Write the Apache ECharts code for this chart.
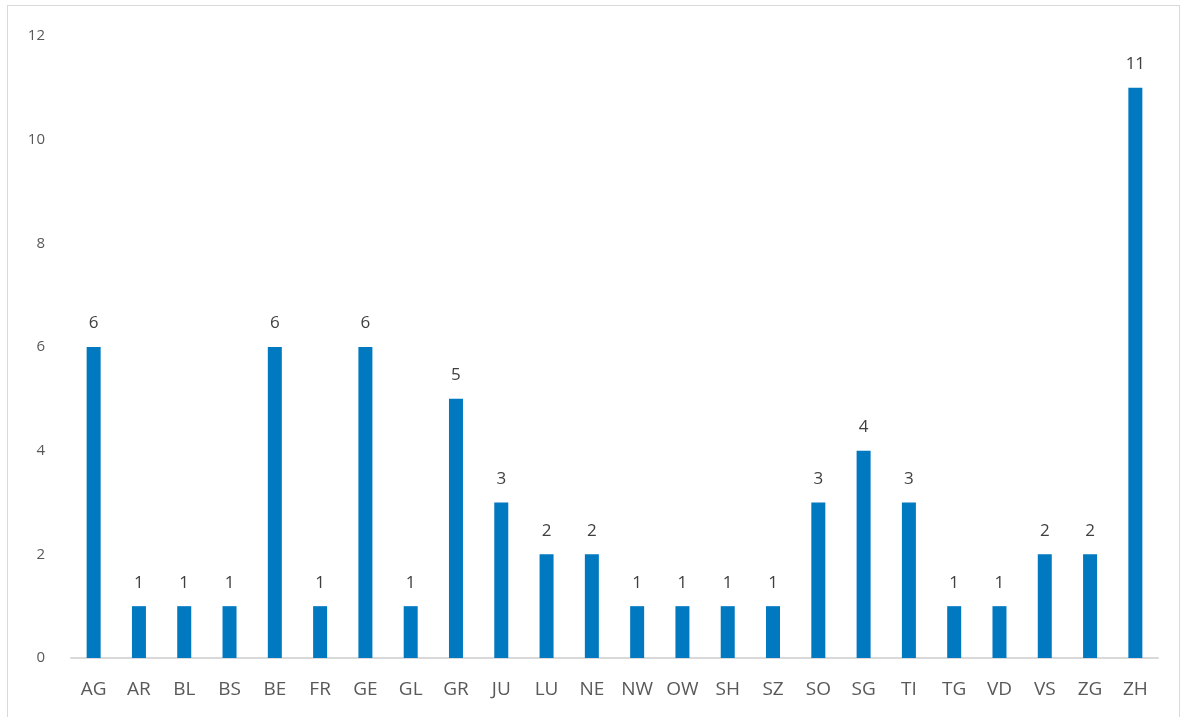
<!DOCTYPE html>
<html><head><meta charset="utf-8">
<script src="https://cdn.jsdelivr.net/npm/echarts@6/dist/echarts.min.js"></script>
<style>
html,body{margin:0;padding:0;background:#fff;}
#frame{position:absolute;left:7px;top:5px;width:1173px;height:730px;border:1px solid #d9d9d9;box-sizing:border-box;}
#c{position:absolute;left:0;top:0;width:1184px;height:717px;}
</style></head>
<body><div id="frame"></div><div id="c"></div>
<script>
const categories = ['AG','AR','BL','BS','BE','FR','GE','GL','GR','JU','LU','NE','NW','OW','SH','SZ','SO','SG','TI','TG','VD','VS','ZG','ZH'];
const values = [6,1,1,1,6,1,6,1,5,3,2,2,1,1,1,1,3,4,3,1,1,2,2,11];
const chart = echarts.init(document.getElementById('c'));
chart.setOption({
  animation:false,
  grid:{left:71,right:26,top:36,bottom:59},
  xAxis:{type:'category',data:categories,
    axisLine:{lineStyle:{color:'#d9d9d9',width:2}},axisTick:{show:false},
    axisLabel:{color:'#595959',fontSize:19,fontFamily:'Open Sans',margin:22}},
  yAxis:{type:'value',min:0,max:12,interval:2,splitLine:{show:false},
    axisLabel:{color:'#595959',fontSize:15,fontFamily:'Open Sans',margin:26,align:'right'}},
  series:[{type:'bar',data:values,barWidth:14,itemStyle:{color:'#0079c1'},
    label:{show:true,position:'top',distance:15,color:'#404040',fontSize:17,fontFamily:'Open Sans'}}]
});
</script></body></html>
